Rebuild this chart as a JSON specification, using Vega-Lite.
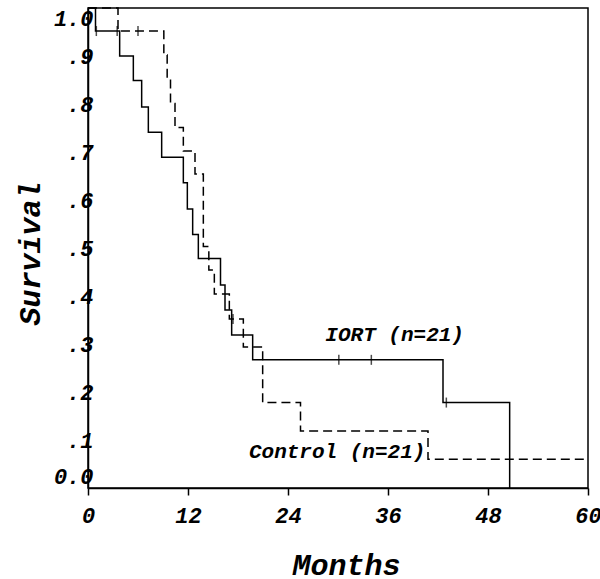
{
  "$schema": "https://vega.github.io/schema/vega-lite/v6.json",
  "width": 500,
  "height": 480,
  "autosize": {"type": "none"},
  "padding": {"left": 88, "top": 8, "right": 12, "bottom": 91},
  "background": "white",
  "config": {
    "view": {"stroke": "black", "strokeWidth": 1.5},
    "axis": {
      "grid": false,
      "domainColor": "black",
      "domainWidth": 1.5,
      "tickColor": "black",
      "tickWidth": 1.5,
      "labelColor": "black",
      "titleColor": "black",
      "labelFont": "Liberation Mono",
      "labelFontStyle": "italic",
      "labelFontWeight": "bold",
      "labelFontSize": 22,
      "titleFont": "Liberation Mono",
      "titleFontStyle": "italic",
      "titleFontWeight": "bold",
      "titleFontSize": 30
    }
  },
  "datasets": {
    "curves": [
      {"group": "IORT", "month": 0, "surv": 1.0},
      {"group": "IORT", "month": 0.9, "surv": 0.952},
      {"group": "IORT", "month": 3.8, "surv": 0.9},
      {"group": "IORT", "month": 5.44, "surv": 0.849},
      {"group": "IORT", "month": 6.44, "surv": 0.794},
      {"group": "IORT", "month": 7.24, "surv": 0.741},
      {"group": "IORT", "month": 8.84, "surv": 0.689},
      {"group": "IORT", "month": 11.44, "surv": 0.636},
      {"group": "IORT", "month": 11.92, "surv": 0.581},
      {"group": "IORT", "month": 12.56, "surv": 0.528},
      {"group": "IORT", "month": 13.24, "surv": 0.478},
      {"group": "IORT", "month": 15.9, "surv": 0.423},
      {"group": "IORT", "month": 16.44, "surv": 0.371},
      {"group": "IORT", "month": 17.24, "surv": 0.319},
      {"group": "IORT", "month": 19.76, "surv": 0.267},
      {"group": "IORT", "month": 42.6, "surv": 0.178},
      {"group": "IORT", "month": 50.6, "surv": 0.0},
      {"group": "Control", "month": 0, "surv": 1.0},
      {"group": "Control", "month": 3.6, "surv": 0.952},
      {"group": "Control", "month": 9.1, "surv": 0.902},
      {"group": "Control", "month": 9.5, "surv": 0.852},
      {"group": "Control", "month": 9.9, "surv": 0.801},
      {"group": "Control", "month": 10.44, "surv": 0.751},
      {"group": "Control", "month": 11.44, "surv": 0.702},
      {"group": "Control", "month": 12.84, "surv": 0.654},
      {"group": "Control", "month": 13.84, "surv": 0.503},
      {"group": "Control", "month": 14.5, "surv": 0.454},
      {"group": "Control", "month": 15.16, "surv": 0.404},
      {"group": "Control", "month": 16.96, "surv": 0.352},
      {"group": "Control", "month": 18.64, "surv": 0.294},
      {"group": "Control", "month": 20.96, "surv": 0.178},
      {"group": "Control", "month": 25.5, "surv": 0.119},
      {"group": "Control", "month": 40.8, "surv": 0.06},
      {"group": "Control", "month": 60, "surv": 0.06}
    ],
    "censored": [
      {"group": "IORT", "month": 1.0, "surv": 0.952},
      {"group": "IORT", "month": 30.1, "surv": 0.267},
      {"group": "IORT", "month": 34.0, "surv": 0.267},
      {"group": "IORT", "month": 43.0, "surv": 0.178},
      {"group": "Control", "month": 3.5, "surv": 0.952},
      {"group": "Control", "month": 6.0, "surv": 0.952},
      {"group": "Control", "month": 17.4, "surv": 0.352}
    ],
    "labels": [
      {"label": "IORT (n=21)", "month": 36.8, "surv": 0.319},
      {"label": "Control (n=21)", "month": 29.9, "surv": 0.075}
    ]
  },
  "layer": [
    {
      "data": {"name": "curves"},
      "mark": {"type": "line", "interpolate": "step-after", "color": "black", "strokeWidth": 1.5},
      "encoding": {
        "x": {
          "field": "month", "type": "quantitative",
          "scale": {"domain": [0, 60], "nice": false},
          "axis": {"values": [0, 12, 24, 36, 48, 60], "title": "Months", "tickSize": 7, "labelPadding": 10, "titleX": 258, "titleY": 77, "titleBaseline": "middle", "labelFlush": false}
        },
        "y": {
          "field": "surv", "type": "quantitative",
          "scale": {"domain": [0, 1], "nice": false},
          "axis": {"values": [0, 0.1, 0.2, 0.3, 0.4, 0.5, 0.6, 0.7, 0.8, 0.9, 1.0], "title": "Survival", "ticks": false, "labelPadding": -5, "labelExpr": "datum.value == 0 ? '0.0' : datum.value == 1 ? '1.0' : '.' + format(datum.value * 10, '.0f')", "titleX": -58, "titleY": 245, "titleBaseline": "middle", "labelFlush": true}
        },
        "strokeDash": {
          "field": "group", "type": "nominal",
          "scale": {"domain": ["IORT", "Control"], "range": [[1, 0], [9, 5]]},
          "legend": null
        }
      }
    },
    {
      "data": {"name": "censored"},
      "mark": {"type": "tick", "orient": "vertical", "color": "black", "size": 10, "thickness": 1.5},
      "encoding": {
        "x": {"field": "month", "type": "quantitative"},
        "y": {"field": "surv", "type": "quantitative"}
      }
    },
    {
      "data": {"name": "labels"},
      "mark": {"type": "text", "font": "Liberation Mono", "fontSize": 21, "fontStyle": "italic", "fontWeight": "bold", "color": "black", "align": "center", "baseline": "middle"},
      "encoding": {
        "x": {"field": "month", "type": "quantitative"},
        "y": {"field": "surv", "type": "quantitative"},
        "text": {"field": "label", "type": "nominal"}
      }
    }
  ]
}
